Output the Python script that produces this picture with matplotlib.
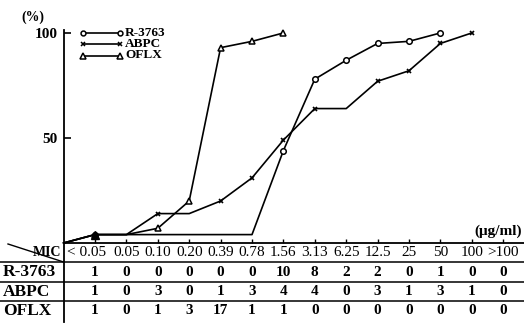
import matplotlib
matplotlib.use("Agg")
import matplotlib.pyplot as plt
from matplotlib.lines import Line2D

# ---------------- data ----------------
mic_labels = ["< 0.05", "0.05", "0.10", "0.20", "0.39", "0.78", "1.56", "3.13",
              "6.25", "12.5", "25", "50", "100", ">100"]
drugs = ["R-3763", "ABPC", "OFLX"]
counts_r3763 = [1, 0, 0, 0, 0, 0, 10, 8, 2, 2, 0, 1, 0, 0]
counts_abpc = [1, 0, 3, 0, 1, 3, 4, 4, 0, 3, 1, 3, 1, 0]
counts_oflx = [1, 0, 1, 3, 17, 1, 1, 0, 0, 0, 0, 0, 0, 0]

# cumulative % (origin point first, then MIC categories)
pct_r3763 = [0, 4, 4, 4, 4, 4, 4, 44, 78, 87, 95, 96, 100]
pct_abpc = [0, 4, 4, 14, 14, 20, 31, 49, 64, 64, 77, 82, 95, 100]
pct_oflx = [0, 4, 4, 7, 20, 93, 96, 100]

# ---------------- layout ----------------
W, H = 524, 329
fig = plt.figure(figsize=(W / 100, H / 100), dpi=100)
serif = ["Liberation Serif", "DejaVu Serif"]
plt.rcParams["font.family"] = serif

x0_px, step_px = 63.6, 31.4          # x position (px) of origin index -1 and spacing
xmin = -1 - x0_px / step_px
xmax = -1 + (W - x0_px) / step_px

def fy(py):
    return 1 - py / H

ax = fig.add_axes([0, fy(243), 1, fy(29.8) - fy(243)])
ax.set_xlim(xmin, xmax)
ax.set_ylim(0, 101.5)
for s in ["top", "right"]:
    ax.spines[s].set_visible(False)
ax.spines["left"].set_position(("data", -1))
ax.spines["bottom"].set_bounds(-1, xmax)
ax.spines["left"].set_linewidth(1.3)
ax.spines["bottom"].set_linewidth(1.3)
ax.set_xticks(range(len(mic_labels)))
ax.set_xticklabels([])
ax.tick_params(axis="x", direction="in", length=3, width=1)
ax.set_yticks([50, 100])
ax.set_yticklabels(["50", "100"], fontsize=11, fontweight="bold")
ax.tick_params(axis="y", direction="in", length=5, width=1.2, pad=4)
ax.patch.set_visible(False)

def marks(pcts):
    return [i for i in range(1, len(pcts)) if pcts[i] != pcts[i - 1]]

xs = lambda p: list(range(-1, len(p) - 1))
lw = 1.2
ax.plot(xs(pct_r3763), pct_r3763, color="black", lw=lw, marker="o", ms=4,
        mfc="white", mew=1.1, markevery=marks(pct_r3763), clip_on=False)
ax.plot(xs(pct_abpc), pct_abpc, color="black", lw=lw, marker="x", ms=3.5,
        mew=1.2, markevery=marks(pct_abpc), clip_on=False)
ax.plot(xs(pct_oflx), pct_oflx, color="black", lw=lw, marker="^", ms=4.5,
        mfc="white", mew=1.1, markevery=marks(pct_oflx), clip_on=False)
ax.plot([0], [pct_r3763[1]], marker="^", ms=5.5, color="black")

fig.text(33 / W, fy(17), "(%)", ha="center", va="center", fontsize=10, fontweight="bold")
fig.text(522 / W, fy(231), "(\u03bcg/ml)", ha="right", va="center", fontsize=11,
         fontweight="bold", family=serif)

# legend
leg_y = [32.5, 44, 55.5]
leg_m = [dict(marker="o", ms=3.5, mfc="white"), dict(marker="x", ms=3),
         dict(marker="^", ms=4, mfc="white")]
for name, yy, mk in zip(drugs, leg_y, leg_m):
    fig.add_artist(Line2D([83 / W, 120 / W], [fy(yy), fy(yy)], color="black",
                          lw=1.2, mew=1.1, transform=fig.transFigure, **mk))
    fig.text(125 / W, fy(yy), name, ha="left", va="center", fontsize=9.5,
             fontweight="bold")

# ---------------- table ----------------
tax = fig.add_axes([0, 0, 1, fy(243)])
tax.set_xlim(xmin, xmax)
tax.set_ylim(H, 243)
tax.axis("off")
for yy in [262, 281.5, 301]:
    tax.plot([xmin, xmax], [yy, yy], color="black", lw=1.1)
tax.plot([-1, -1], [243, 322], color="black", lw=1.3)
tax.plot([xmin + 8 / step_px, -1], [244, 262], color="black", lw=1.0)
tax.text(-1.08, 252, "MIC", ha="right", va="center", fontsize=10, fontweight="bold")

for i, lab in enumerate(mic_labels):
    if i == 0:
        tax.text(-0.88, 253, lab, ha="left", va="center", fontsize=11)
    else:
        tax.text(i, 253, lab, ha="center", va="center", fontsize=11)

row_y = [272, 291.5, 311]
for name, cnts, yy in zip(drugs, [counts_r3763, counts_abpc, counts_oflx], row_y):
    tax.text(xmin + 3 / step_px, yy, name, ha="left", va="center", fontsize=12.5,
             fontweight="bold")
    for i, c in enumerate(cnts):
        tax.text(i, yy, str(c), ha="center", va="center", fontsize=11, fontweight="bold")

fig.savefig("out.png", dpi=100)
